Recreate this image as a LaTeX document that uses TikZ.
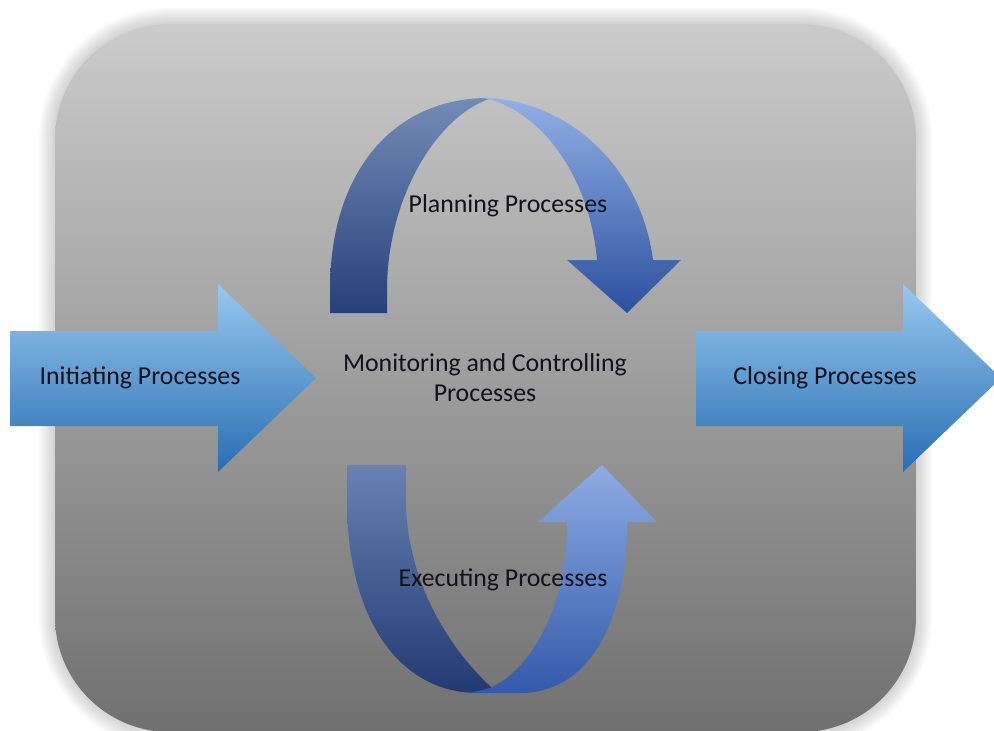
\documentclass[tikz,border=0pt]{standalone}
\usepackage{fontspec}
\setmainfont{Carlito}
\definecolor{bgtop}{RGB}{203,203,203}
\definecolor{bgbot}{RGB}{112,112,112}
\definecolor{artop}{RGB}{152,200,240}
\definecolor{arbot}{RGB}{40,110,178}
\definecolor{dktop}{RGB}{115,140,182}
\definecolor{dkbot}{RGB}{38,64,122}
\definecolor{lttop}{RGB}{145,176,230}
\definecolor{ltbot}{RGB}{44,80,158}
\definecolor{dkbtop}{RGB}{104,130,178}
\definecolor{dkbbot}{RGB}{34,58,114}
\definecolor{ltbtop}{RGB}{142,172,228}
\definecolor{ltbbot}{RGB}{50,90,170}
\definecolor{txt}{RGB}{18,18,24}
\begin{document}
\begin{tikzpicture}[x=1pt,y=-1pt,
  lbl/.style={text=txt, inner sep=0pt, font=\fontsize{25.8}{30}\selectfont},
  blockarrow/.style={top color=artop, bottom color=arbot}]
\useasboundingbox (0,0) rectangle (994,731);
% soft glow around the panel
\foreach \i [evaluate=\i as \d using \i*1.8, evaluate=\i as \r using 115+\i*1.8] in {1,...,9} {
  \fill[black, opacity=0.02, rounded corners=\r pt] (55-\d,24-\d) rectangle (916+\d,732+\d);
}
% panel
\shade[top color=bgtop, bottom color=bgbot, rounded corners=115pt] (55,24) rectangle (916,732);
% block arrows
\shade[blockarrow] (10,331) -- (218,331) -- (218,284) -- (316,378) -- (218,472) -- (218,426) -- (10,426) -- cycle;
\shade[blockarrow] (696,331) -- (903,331) -- (903,284) -- (1001,378) -- (903,472) -- (903,426) -- (696,426) -- cycle;
% top curved arrow: back (dark) part
\shade[top color=dktop, bottom color=dkbot]
  (330,313) -- (330,290) .. controls (330,170) and (395,98) .. (488,98)
  -- (489,99) .. controls (435,118) and (387,200) .. (387,290) -- (387,313) -- cycle;
% top curved arrow: front (light) part with head
\shade[top color=lttop, bottom color=ltbot]
  (482,98) .. controls (560,98) and (640,160) .. (653,260)
  -- (681,260) -- (627,313) -- (567,260) -- (597,260)
  .. controls (590,180) and (545,115) .. (489,99) -- cycle;
% bottom curved arrow: back (dark) part
\shade[top color=dkbtop, bottom color=dkbbot]
  (347,465) -- (347,500) .. controls (347,620) and (400,693) .. (478,693)
  -- (492,688) .. controls (440,640) and (406,570) .. (406,500) -- (406,465) -- cycle;
% bottom curved arrow: front (light) part with head
\shade[top color=ltbtop, bottom color=ltbbot]
  (470,693) -- (520,693) .. controls (590,693) and (627,620) .. (627,522)
  -- (657,522) -- (602,465) -- (538,522) -- (567,522)
  .. controls (567,610) and (530,670) .. (490,688) -- cycle;
% labels
\node[lbl] (init) at (140,378) {Initiating Processes};
\node[lbl] (close) at (825,378) {Closing Processes};
\node[lbl] (plan) at (508,206) {Planning Processes};
\node[lbl, align=center] (mon) at (485,378) {Monitoring and Controlling\\Processes};
\node[lbl] (exec) at (503,580) {Executing Processes};
\end{tikzpicture}
\end{document}
